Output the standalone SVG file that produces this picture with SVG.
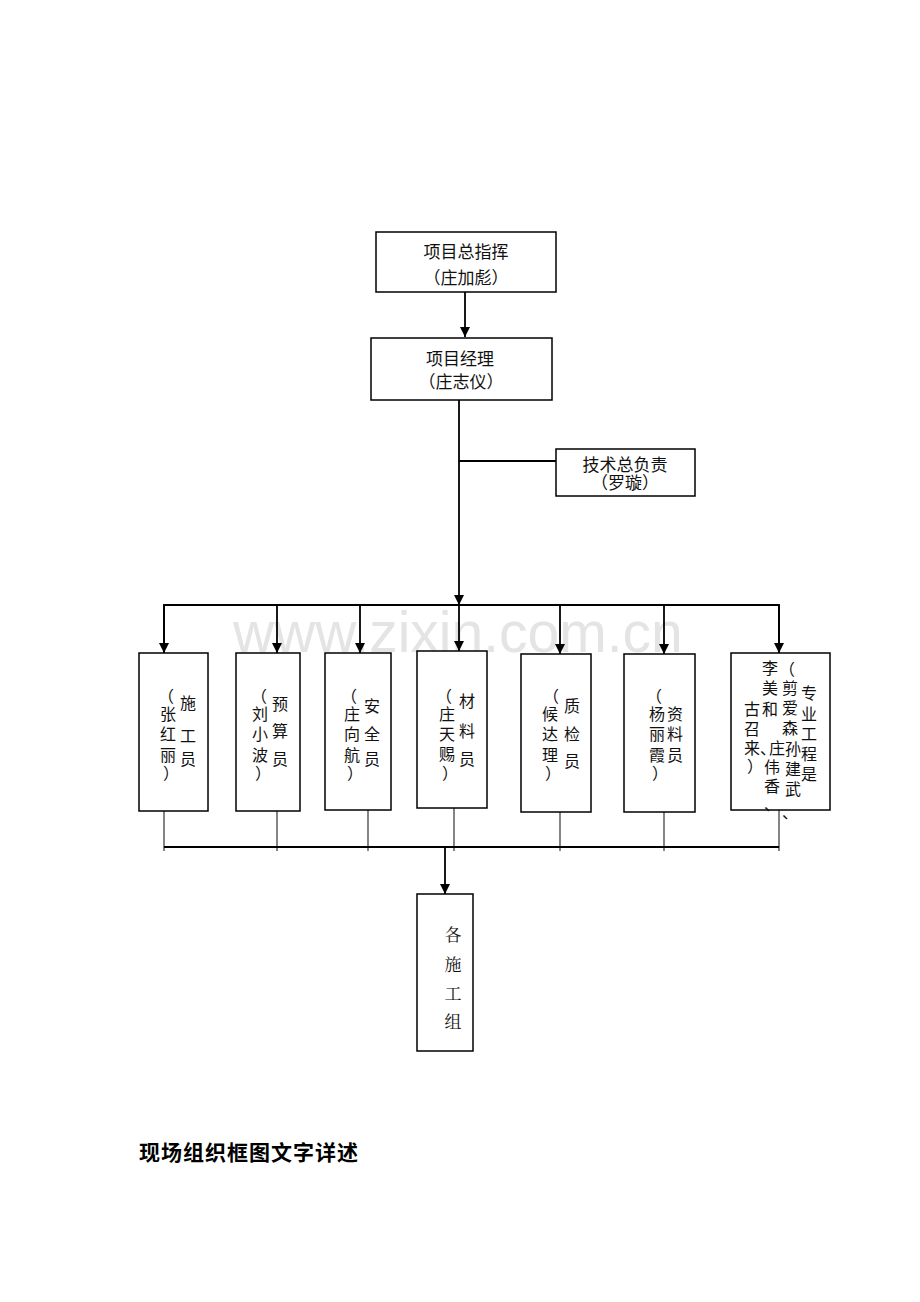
<svg xmlns="http://www.w3.org/2000/svg" width="920" height="1302" viewBox="0 0 920 1302">
<defs>
<marker id="ah" viewBox="0 0 10 10" refX="10" refY="5" markerWidth="10" markerHeight="10" markerUnits="userSpaceOnUse" orient="auto">
<path d="M0,0 L10,5 L0,10 Z" fill="#000"/>
</marker>
<style>
.bx{fill:#fff;stroke:#000;stroke-width:1.5}
.ln{stroke:#000;stroke-width:1.8;fill:none}
.tn{stroke:#333;stroke-width:1.2;fill:none}
.h{font-family:"Noto Sans CJK SC",sans-serif;font-size:17px;text-anchor:middle;dominant-baseline:central;fill:#111}
.v{font-family:"Noto Sans CJK SC",sans-serif;font-size:16px;text-anchor:middle;dominant-baseline:central;fill:#111}
.s{font-family:"Noto Serif CJK SC","Noto Sans CJK SC",serif;font-size:17px;text-anchor:middle;dominant-baseline:central;fill:#111}
.wm{font-family:"Liberation Sans",Arial,sans-serif;font-size:57px;fill:#e4e4e4}
.t{font-family:"Noto Sans CJK SC",sans-serif;font-size:21px;font-weight:bold;letter-spacing:1px;fill:#000}
</style>
</defs>
<rect width="920" height="1302" fill="#fff"/>
<text class="wm" x="233" y="652">www.zixin.com.cn</text>

<g id="connectors">
<line class="ln" x1="465" y1="292" x2="465" y2="337" marker-end="url(#ah)"/>
<line class="ln" x1="459" y1="400" x2="459" y2="605" marker-end="url(#ah)"/>
<line class="ln" x1="459" y1="461" x2="556" y2="461"/>
<polyline class="ln" points="164,653 164,605 779,605 779,653"/>
<line class="ln" x1="164" y1="605" x2="164" y2="653" marker-end="url(#ah)"/>
<line class="ln" x1="277" y1="605" x2="277" y2="653" marker-end="url(#ah)"/>
<line class="ln" x1="360" y1="605" x2="360" y2="653" marker-end="url(#ah)"/>
<line class="ln" x1="459" y1="605" x2="459" y2="651" marker-end="url(#ah)"/>
<line class="ln" x1="560" y1="605" x2="560" y2="654" marker-end="url(#ah)"/>
<line class="ln" x1="664" y1="605" x2="664" y2="654" marker-end="url(#ah)"/>
<line class="ln" x1="779" y1="605" x2="779" y2="653" marker-end="url(#ah)"/>
<line class="tn" x1="164" y1="811" x2="164" y2="851"/>
<line class="tn" x1="277" y1="811" x2="277" y2="851"/>
<line class="tn" x1="368" y1="810" x2="368" y2="851"/>
<line class="tn" x1="454" y1="808" x2="454" y2="851"/>
<line class="tn" x1="560" y1="812" x2="560" y2="851"/>
<line class="tn" x1="664" y1="812" x2="664" y2="851"/>
<line class="tn" x1="779" y1="810" x2="779" y2="851"/>
<line class="ln" x1="164" y1="847" x2="779" y2="847"/>
<line class="ln" x1="445" y1="847" x2="445" y2="894" marker-end="url(#ah)"/>
</g>

<g id="n-zonghui">
<rect class="bx" x="376" y="232" width="180" height="60"/>
<text class="h"><tspan x="466" y="250">项目总指挥</tspan><tspan x="466" y="276">（庄加彪）</tspan></text>
</g>

<g id="n-jingli">
<rect class="bx" x="371" y="338" width="181" height="62"/>
<text class="h"><tspan x="460" y="357">项目经理</tspan><tspan x="461" y="380">（庄志仪）</tspan></text>
</g>

<g id="n-jishu">
<rect class="bx" x="556" y="449" width="139" height="47"/>
<text class="h"><tspan x="625" y="463">技术总负责</tspan><tspan x="625" y="481">（罗璇）</tspan></text>
</g>

<g id="n-shigong">
<rect class="bx" x="139" y="653" width="69" height="158"/>
<text class="v"><tspan x="166" y="695">（</tspan><tspan x="168" y="713">张</tspan><tspan x="168" y="733">红</tspan><tspan x="168" y="754">丽</tspan><tspan x="171" y="772">）</tspan></text>
<text class="v"><tspan x="188" y="702">施</tspan><tspan x="188" y="735">工</tspan><tspan x="188" y="758">员</tspan></text>
</g>

<g id="n-yusuan">
<rect class="bx" x="236" y="653" width="64" height="158"/>
<text class="v"><tspan x="259" y="695">（</tspan><tspan x="260" y="713">刘</tspan><tspan x="260" y="733">小</tspan><tspan x="260" y="754">波</tspan><tspan x="263" y="772">）</tspan></text>
<text class="v"><tspan x="280" y="703">预</tspan><tspan x="280" y="730">算</tspan><tspan x="280" y="758">员</tspan></text>
</g>

<g id="n-anquan">
<rect class="bx" x="325" y="653" width="66" height="157"/>
<text class="v"><tspan x="349" y="695">（</tspan><tspan x="352" y="713">庄</tspan><tspan x="352" y="733">向</tspan><tspan x="352" y="754">航</tspan><tspan x="355" y="772">）</tspan></text>
<text class="v"><tspan x="372" y="705">安</tspan><tspan x="372" y="733">全</tspan><tspan x="372" y="758">员</tspan></text>
</g>

<g id="n-cailiao">
<rect class="bx" x="417" y="651" width="70" height="157"/>
<text class="v"><tspan x="444" y="695">（</tspan><tspan x="447" y="713">庄</tspan><tspan x="447" y="733">天</tspan><tspan x="447" y="753">赐</tspan><tspan x="450" y="772">）</tspan></text>
<text class="v"><tspan x="467" y="700">材</tspan><tspan x="467" y="730">料</tspan><tspan x="467" y="758">员</tspan></text>
</g>

<g id="n-zhijian">
<rect class="bx" x="521" y="654" width="70" height="158"/>
<text class="v"><tspan x="551" y="695">（</tspan><tspan x="550" y="713">候</tspan><tspan x="550" y="733">达</tspan><tspan x="550" y="754">理</tspan><tspan x="553" y="772">）</tspan></text>
<text class="v"><tspan x="572" y="705">质</tspan><tspan x="572" y="733">检</tspan><tspan x="572" y="760">员</tspan></text>
</g>

<g id="n-ziliao">
<rect class="bx" x="624" y="654" width="71" height="158"/>
<text class="v"><tspan x="654" y="695">（</tspan><tspan x="657" y="713">杨</tspan><tspan x="657" y="733">丽</tspan><tspan x="657" y="754">霞</tspan><tspan x="660" y="772">）</tspan></text>
<text class="v"><tspan x="675" y="713">资</tspan><tspan x="675" y="733">料</tspan><tspan x="675" y="754">员</tspan></text>
</g>

<g id="n-zhuanye">
<rect class="bx" x="731" y="653" width="99" height="157"/>
<text class="v"><tspan x="752" y="708">古</tspan><tspan x="752" y="728">召</tspan><tspan x="752" y="747">来</tspan><tspan x="755" y="765">）</tspan></text>
<text class="v"><tspan x="770" y="667">李</tspan><tspan x="770" y="687">美</tspan><tspan x="770" y="708">和</tspan><tspan x="768" y="747">、</tspan><tspan x="777" y="747">庄</tspan><tspan x="772" y="766">伟</tspan><tspan x="772" y="785">香</tspan><tspan x="772" y="803">、</tspan></text>
<text class="v"><tspan x="787" y="668">（</tspan><tspan x="790" y="687">剪</tspan><tspan x="790" y="707">爱</tspan><tspan x="790" y="727">森</tspan><tspan x="793" y="748">孙</tspan><tspan x="793" y="768">建</tspan><tspan x="793" y="788">武</tspan><tspan x="790" y="811">、</tspan></text>
<text class="v"><tspan x="809" y="692">专</tspan><tspan x="809" y="713">业</tspan><tspan x="809" y="733">工</tspan><tspan x="809" y="753">程</tspan><tspan x="809" y="773">是</tspan></text>
</g>

<g id="n-zu">
<rect class="bx" x="417" y="894" width="56" height="157"/>
<text class="s"><tspan x="453" y="933">各</tspan><tspan x="453" y="963">施</tspan><tspan x="453" y="992">工</tspan><tspan x="453" y="1020">组</tspan></text>
</g>

<text class="t" x="139" y="1160">现场组织框图文字详述</text>
</svg>
